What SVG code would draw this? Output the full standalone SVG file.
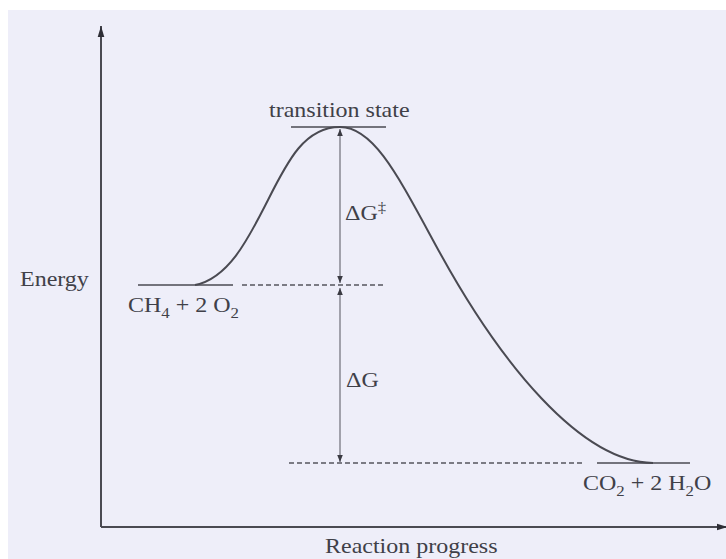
<svg xmlns="http://www.w3.org/2000/svg" width="726" height="559" viewBox="0 0 726 559">
<defs>
<style>
.axis{stroke:#4a4a52;stroke-width:2;fill:none}
.curve{stroke:#4a4a52;stroke-width:2;fill:none}
.level{stroke:#4a4a52;stroke-width:1.6;fill:none}
.dash{stroke:#55555e;stroke-width:1.4;fill:none;stroke-dasharray:5 3}
.dim{stroke:#55555e;stroke-width:1;fill:none}
.lbl{font-family:"Liberation Serif","Times New Roman",serif;font-size:20px;fill:#404048}
.sub{font-size:14px}
</style>
<marker id="ah" viewBox="0 0 10 10" refX="10" refY="5" markerWidth="7" markerHeight="7" markerUnits="userSpaceOnUse" orient="auto-start-reverse">
<path d="M0,1 L10,5 L0,9 z" fill="#3a3a42"/>
</marker>
<marker id="axh" viewBox="0 0 10 10" refX="10" refY="5" markerWidth="11" markerHeight="11" markerUnits="userSpaceOnUse" orient="auto">
<path d="M0,2 L10,5 L0,8 z" fill="#2e2e36"/>
</marker>
</defs>
<rect x="0" y="0" width="726" height="559" fill="#ffffff"/>
<rect x="8" y="10" width="718" height="549" fill="#eeeef9"/>

<g id="axes">
<path class="axis" d="M101,527 L101,26" marker-end="url(#axh)"/>
<path class="axis" d="M101,527 L728,527" marker-end="url(#axh)"/>
</g>

<g id="curve">
<path class="curve" d="M195,285 C230,278 250,235 268,200 C288,160 305,127 340,127 C375,127 400,180 440,253 C500,362 580,462 653,463"/>
</g>

<g id="transition-state">
<line class="level" x1="291" y1="127" x2="386" y2="127"/>
<text class="lbl" transform="translate(269,117) scale(1.2,1)">transition state</text>
</g>

<g id="reactants">
<line class="level" x1="138" y1="285" x2="233" y2="285"/>
<text class="lbl" transform="translate(128,312) scale(1.2,1)">CH<tspan class="sub" dy="6">4</tspan><tspan dy="-6"> + 2 O</tspan><tspan class="sub" dy="6">2</tspan></text>
</g>

<g id="products">
<line class="level" x1="597" y1="463" x2="690" y2="463"/>
<text class="lbl" transform="translate(583,490) scale(1.2,1)">CO<tspan class="sub" dy="6">2</tspan><tspan dy="-6"> + 2 H</tspan><tspan class="sub" dy="6">2</tspan><tspan dy="-6">O</tspan></text>
</g>

<g id="connectors">
<line class="dash" x1="242" y1="285" x2="386" y2="285"/>
<line class="dash" x1="289" y1="463" x2="584" y2="463"/>
<line class="dim" x1="340" y1="129" x2="340" y2="283" marker-start="url(#ah)" marker-end="url(#ah)"/>
<line class="dim" x1="340" y1="288" x2="340" y2="462" marker-start="url(#ah)" marker-end="url(#ah)"/>
</g>

<g id="labels">
<text class="lbl" transform="translate(345,220) scale(1.2,1)">ΔG<tspan class="sub" dy="-8">‡</tspan></text>
<text class="lbl" transform="translate(346,387) scale(1.2,1)">ΔG</text>
<text class="lbl" transform="translate(20,286) scale(1.2,1)">Energy</text>
<text class="lbl" transform="translate(325,553) scale(1.2,1)">Reaction progress</text>
</g>
</svg>
